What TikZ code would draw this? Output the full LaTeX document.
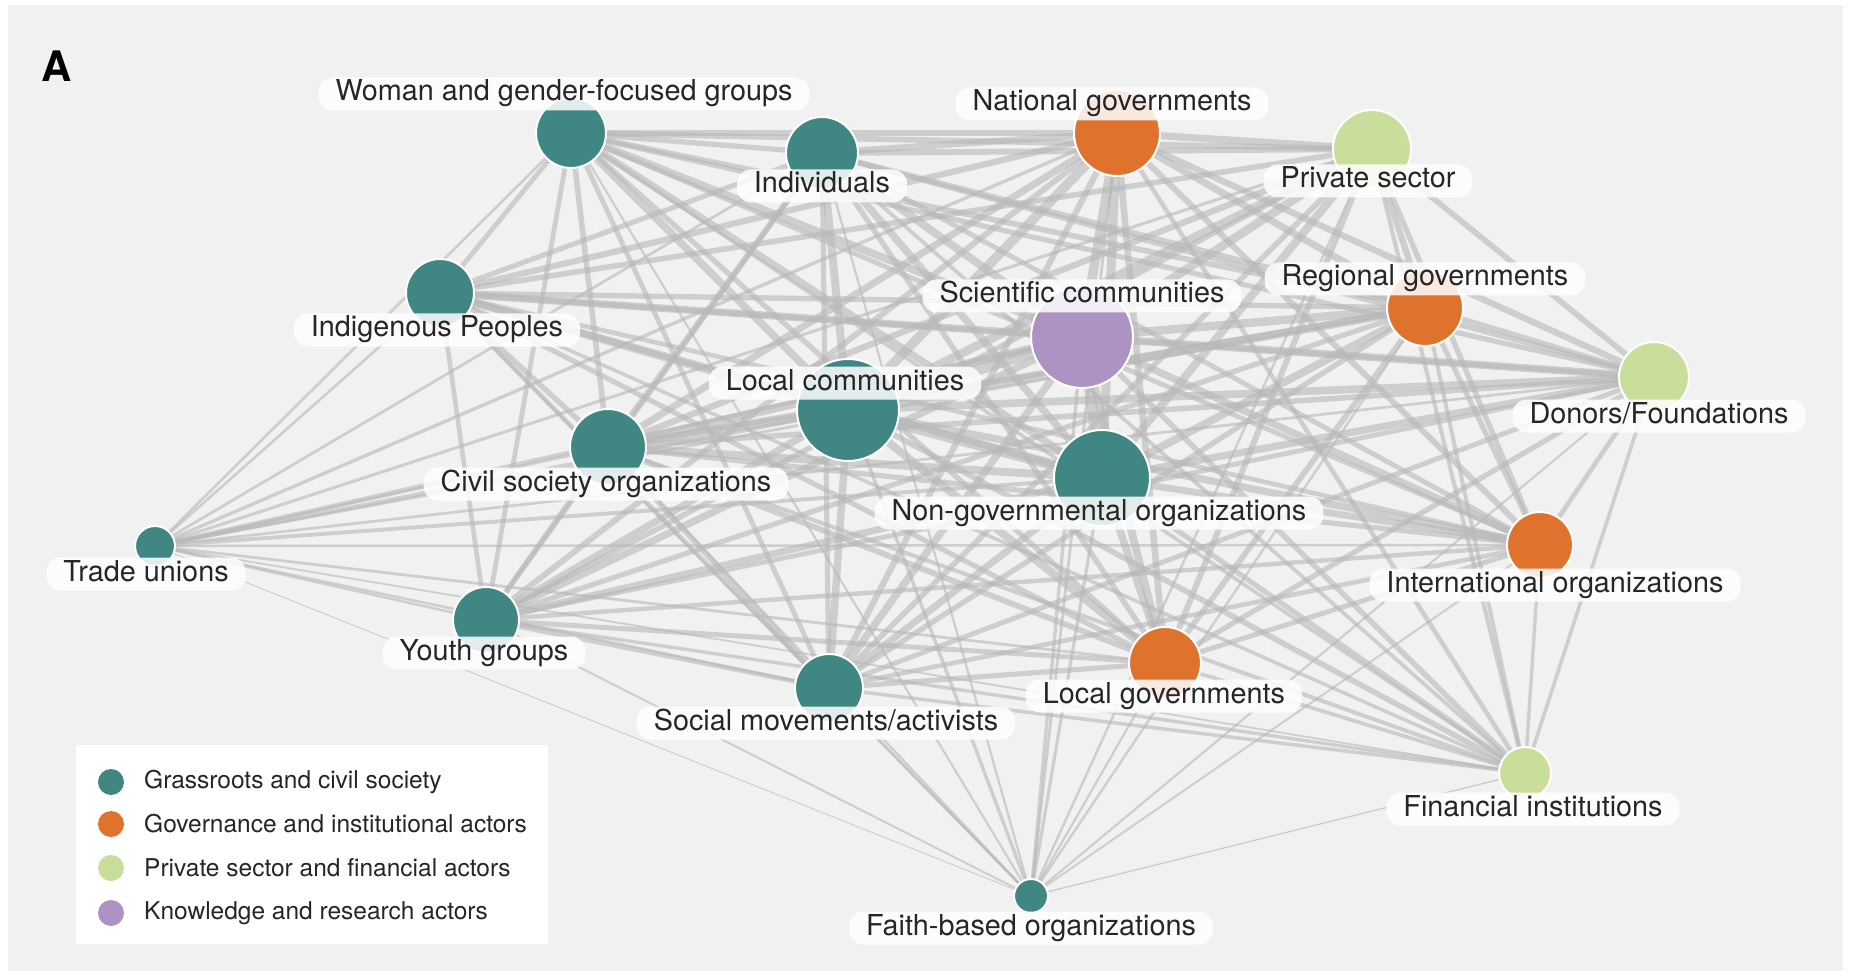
\documentclass[tikz,border=0pt]{standalone}
\usepackage{fontspec}
\setmainfont{TeX Gyre Heros}
\definecolor{cTeal}{RGB}{64,134,130}
\definecolor{cOrange}{RGB}{223,114,44}
\definecolor{cGreen}{RGB}{202,222,155}
\definecolor{cPurple}{RGB}{173,147,196}
\definecolor{cEdge}{RGB}{185,185,185}
\definecolor{cBack}{RGB}{241,241,241}
\pgfdeclarelayer{back}
\pgfdeclarelayer{edges}
\pgfsetlayers{back,edges,main}
\begin{document}
\begin{tikzpicture}[x=1pt,y=-1pt,
  actor/.style={circle, draw=white, line width=2pt, minimum size=#1, inner sep=0pt},
  lab/.style={rounded corners=14pt, fill=white, fill opacity=0.85, text opacity=1,
    inner xsep=17pt, inner ysep=3.5pt, text height=20pt, text depth=6pt,
    font=\fontsize{28.8}{30}\selectfont, text=black!85},
  edge/.style={draw=cEdge, draw opacity=0.62, line cap=round},
  legdot/.style={circle, minimum size=26pt, inner sep=0pt},
  legtext/.style={anchor=west, font=\fontsize{24.5}{27}\selectfont, text=black!85, inner sep=0pt}
]
\useasboundingbox (0,0) rectangle (1850,976);
\begin{pgfonlayer}{back}
  \fill[white] (0,0) rectangle (1850,976);
  \fill[cBack] (8,5) rectangle (1843,971);
\end{pgfonlayer}

% actor circles
\node[actor=70pt,  fill=cTeal]   (n1)  at (571,133) {};
\node[actor=72pt,  fill=cTeal]   (n2)  at (822,153) {};
\node[actor=86pt,  fill=cOrange] (n3)  at (1117,133) {};
\node[actor=78pt,  fill=cGreen]  (n4)  at (1372,149) {};
\node[actor=102pt, fill=cPurple] (n5)  at (1082,337) {};
\node[actor=76pt,  fill=cOrange] (n6)  at (1425,308) {};
\node[actor=70pt,  fill=cGreen]  (n7)  at (1654,377) {};
\node[actor=102pt, fill=cTeal]   (n8)  at (848,410) {};
\node[actor=96pt,  fill=cTeal]   (n9)  at (1102,478) {};
\node[actor=68pt,  fill=cTeal]   (n10) at (440,293) {};
\node[actor=76pt,  fill=cTeal]   (n11) at (608,447) {};
\node[actor=40pt,  fill=cTeal]   (n12) at (155,546) {};
\node[actor=66pt,  fill=cTeal]   (n13) at (486,620) {};
\node[actor=68pt,  fill=cTeal]   (n14) at (829,688) {};
\node[actor=72pt,  fill=cOrange] (n15) at (1165,663) {};
\node[actor=66pt,  fill=cOrange] (n16) at (1540,545) {};
\node[actor=52pt,  fill=cGreen]  (n17) at (1525,773) {};
\node[actor=34pt,  fill=cTeal]   (n18) at (1031,896) {};

% connectors
\def\R{{35,36,43,39,51,38,35,51,48,34,38,20,33,34,36,33,26,17}}
\begin{pgfonlayer}{edges}
\foreach \i in {1,...,17}{
  \pgfmathtruncatemacro\s{\i+1}
  \foreach \j in {\s,...,18}{
    \pgfmathsetmacro\w{max(0.8,\R[\i-1]*\R[\j-1]/215-0.6)}
    \draw[edge, line width=\w pt] (n\i.center) -- (n\j.center);
  }
}
\end{pgfonlayer}

% labels
\node[lab] (l1)  at (564,94)  {Woman and gender-focused groups};
\node[lab] (l2)  at (822,186) {Individuals};
\node[lab] (l3)  at (1112,104) {National governments};
\node[lab] (l4)  at (1368,181) {Private sector};
\node[lab] (l5)  at (1082,296) {Scientific communities};
\node[lab] (l6)  at (1425,279) {Regional governments};
\node[lab] (l7)  at (1659,416) {Donors/Foundations};
\node[lab] (l8)  at (845,383) {Local communities};
\node[lab] (l9)  at (1099,513) {Non-governmental organizations};
\node[lab] (l10) at (437,330) {Indigenous Peoples};
\node[lab] (l11) at (606,484) {Civil society organizations};
\node[lab] (l12) at (146,574) {Trade unions};
\node[lab] (l13) at (484,653) {Youth groups};
\node[lab] (l14) at (826,723) {Social movements/activists};
\node[lab] (l15) at (1164,696) {Local governments};
\node[lab] (l16) at (1555,585) {International organizations};
\node[lab] (l17) at (1533,809) {Financial institutions};
\node[lab] (l18) at (1031,928) {Faith-based organizations};

% panel letter
\node[font=\fontsize{42}{44}\selectfont\bfseries, inner sep=0pt] (panel) at (57,66) {A};

% legend
\node[fill=white, anchor=north west, minimum width=472pt, minimum height=199pt, inner sep=0pt] (leg) at (76,745) {};
\node[legdot, fill=cTeal]   (d1) at (111,782) {};
\node[legdot, fill=cOrange] (d2) at (111,824) {};
\node[legdot, fill=cGreen]  (d3) at (111,868) {};
\node[legdot, fill=cPurple] (d4) at (111,913) {};
\node[legtext] (t1) at (144,782) {Grassroots and civil society};
\node[legtext] (t2) at (144,824) {Governance and institutional actors};
\node[legtext] (t3) at (144,868) {Private sector and financial actors};
\node[legtext] (t4) at (144,913) {Knowledge and research actors};
\end{tikzpicture}
\end{document}
